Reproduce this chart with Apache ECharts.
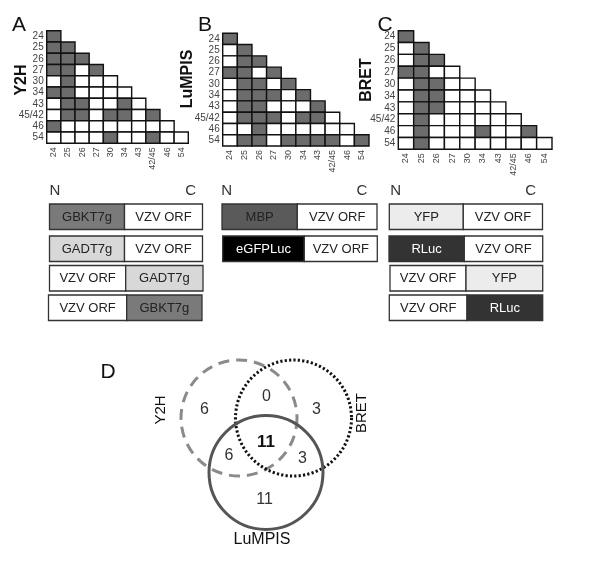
<!DOCTYPE html>
<html><head><meta charset="utf-8">
<script src="https://cdn.jsdelivr.net/npm/echarts@6/dist/echarts.min.js"></script>
<style>html,body{margin:0;padding:0;background:#fff}#c{width:600px;height:561px}</style>
</head><body><div id="c"></div>
<script>
// ---- data ----
const rowLabels = ['24','25','26','27','30','34','43','45/42','46','54'];
const colLabels = ['24','25','26','27','30','34','43','42/45','46','54'];
const y2hMatrix = [
 [1],[1,1],[1,1,1],[1,1,0,1],[0,1,0,0,0],[1,1,0,0,0,0],[0,1,1,0,0,1,0],
 [0,1,1,0,1,1,0,1],[1,0,0,0,0,0,0,0,0],[0,0,0,0,1,0,0,1,0,0]];
const lumpisMatrix = [
 [1],[0,1],[0,1,1],[1,1,0,1],[0,1,1,0,1],[0,1,1,1,0,1],[0,1,1,0,0,0,1],
 [0,1,1,1,0,1,1,0],[0,0,1,0,0,0,0,0,0],[0,1,1,0,1,1,1,1,0,1]];
const bretMatrix = [
 [1],[0,1],[0,1,1],[1,1,0,0],[0,1,1,0,0],[0,1,1,0,0,0],[0,1,1,0,0,0,0],
 [0,1,0,0,0,0,0,0],[0,1,0,0,0,1,0,0,1],[0,1,0,0,0,0,0,0,0,0]];
const assayNames = ['Y2H','LuMPIS','BRET'];
const panelLetters = ['A','B','C'];
const constructsA = [['GBKT7g','VZV ORF'],['GADT7g','VZV ORF'],['VZV ORF','GADT7g'],['VZV ORF','GBKT7g']];
const constructsB = [['MBP','VZV ORF'],['eGFPLuc','VZV ORF']];
const constructsC = [['YFP','VZV ORF'],['RLuc','VZV ORF'],['VZV ORF','YFP'],['VZV ORF','RLuc']];
const vennCounts = {y2hOnly:6, bretOnly:3, y2hBret:0, all:11, y2hLum:6, bretLum:3, lumOnly:11};

// ---- styles / layout ----
const FONT = 'Liberation Sans, Arial, sans-serif';
const grids = [
  {left:46.7, top:30.7, width:141.6, height:112.6},
  {left:222.7, top:33.3, width:146.3, height:112.7},
  {left:398.3, top:30.7, width:153.7, height:118.6}
];
const matrices = [y2hMatrix, lumpisMatrix, bretMatrix];
const partFill = {
  'GBKT7g':['#7a7a7a','#222'], 'GADT7g':['#d8d8d8','#222'], 'VZV ORF':['#ffffff','#222'],
  'MBP':['#5a5a5a','#222'], 'eGFPLuc':['#000000','#fff'], 'YFP':['#ececec','#222'], 'RLuc':['#333333','#fff']
};

function toCells(m){
  const out=[];
  m.forEach((row,i)=>row.forEach((v,j)=>out.push([j,i,v])));
  return out;
}

const option = {
  animation:false,
  backgroundColor:'#fff',
  grid: grids.map(g=>Object.assign({containLabel:false},g)),
  xAxis: grids.map((g,k)=>({
    type:'category', gridIndex:k, data:colLabels,
    axisLine:{show:false}, axisTick:{show:false}, splitLine:{show:false},
    axisLabel:{rotate:90, fontSize:9, color:'#444', margin:4, fontFamily:FONT, interval:0}
  })),
  yAxis: grids.map((g,k)=>({
    type:'category', gridIndex:k, data:rowLabels, inverse:true,
    axisLine:{show:false}, axisTick:{show:false}, splitLine:{show:false},
    axisLabel:{fontSize:10, color:'#444', margin:3, fontFamily:FONT, interval:0}
  })),
  series: matrices.map((m,k)=>({
    type:'custom', xAxisIndex:k, yAxisIndex:k, data:toCells(m),
    renderItem:function(params, api){
      const p = api.coord([api.value(0), api.value(1)]);
      const s = api.size([1,1]);
      return {type:'rect',
        shape:{x:p[0]-s[0]/2, y:p[1]-s[1]/2, width:s[0], height:s[1]},
        style:{fill: api.value(2) ? '#6c6c6c' : '#ffffff', stroke:'#111', lineWidth:1.4}};
    }
  })),
  graphic: []
};

const G = option.graphic;
function txt(x,y,t,opts){
  G.push({type:'text', x:x, y:y, rotation:(opts&&opts.rot)||0, silent:true,
    style:{text:t, fill:(opts&&opts.color)||'#111', font:((opts&&opts.weight)||'normal')+' '+((opts&&opts.size)||13)+'px '+FONT,
      textAlign:(opts&&opts.align)||'center', textVerticalAlign:'middle'}});
}
// panel letters and assay titles
[[19,25],[205,25],[385,25]].forEach((p,i)=>txt(p[0],p[1],panelLetters[i],{size:21}));
[[21.5,80],[188,79],[367,80]].forEach((p,i)=>txt(p[0],p[1],assayNames[i],{size:16,weight:'bold',rot:Math.PI/2}));

// construct boxes
const boxPanels = [
  {c:constructsA, left:[49.5,49.5,49.5,48.5], mid:[124.5,124.5,125.7,126.7], right:[202.5,202.5,203,202], N:55, C:190.7},
  {c:constructsB, left:[222,222.7], mid:[297.3,304.3], right:[377,377.3], N:226.7, C:362},
  {c:constructsC, left:[389.3,389,390,389.3], mid:[463.3,464.3,466,467], right:[542.5,542.7,542.7,542.7], N:395.7, C:530.7}
];
const rowTops = [204,236,265.5,295];
const boxH = 25.5;
boxPanels.forEach(bp=>{
  txt(bp.N,191,'N',{size:15,color:'#333'});
  txt(bp.C,191,'C',{size:15,color:'#333'});
  bp.c.forEach((parts,r)=>{
    const xs=[bp.left[r],bp.mid[r],bp.right[r]];
    parts.forEach((name,q)=>{
      const f=partFill[name];
      G.push({type:'rect', silent:true, shape:{x:xs[q], y:rowTops[r], width:xs[q+1]-xs[q], height:boxH},
        style:{fill:f[0], stroke:'#333', lineWidth:1.3}});
      txt((xs[q]+xs[q+1])/2, rowTops[r]+boxH/2+0.5, name, {size:13, color:f[1]});
    });
  });
});

// Venn diagram
txt(108,372,'D',{size:21});
const circles = [
  {cx:239, cy:418, r:58, stroke:'#8a8a8a', dash:[11,7]},
  {cx:293.5, cy:418, r:58, stroke:'#111', dash:[2.2,2.2]},
  {cx:266, cy:472.5, r:57, stroke:'#555', dash:null}
];
circles.forEach(c=>G.push({type:'circle', silent:true, shape:{cx:c.cx, cy:c.cy, r:c.r},
  style:{fill:'none', stroke:c.stroke, lineWidth:3, lineDash:c.dash}}));
txt(204.5,410,String(vennCounts.y2hOnly),{size:16,color:'#333'});
txt(266.5,397,String(vennCounts.y2hBret),{size:16,color:'#333'});
txt(316.5,410,String(vennCounts.bretOnly),{size:16,color:'#333'});
txt(266,442,String(vennCounts.all),{size:17,weight:'bold',color:'#111'});
txt(229,456,String(vennCounts.y2hLum),{size:16,color:'#333'});
txt(302.5,459,String(vennCounts.bretLum),{size:16,color:'#333'});
txt(264.5,500,String(vennCounts.lumOnly),{size:16,color:'#333'});
txt(161,410,assayNames[0],{size:15,rot:Math.PI/2});
txt(362,413,assayNames[2],{size:15,rot:Math.PI/2});
txt(262,540,assayNames[1],{size:16});

const chart = echarts.init(document.getElementById('c'), null, {renderer:'canvas'});
chart.setOption(option);
</script>
</body></html>
